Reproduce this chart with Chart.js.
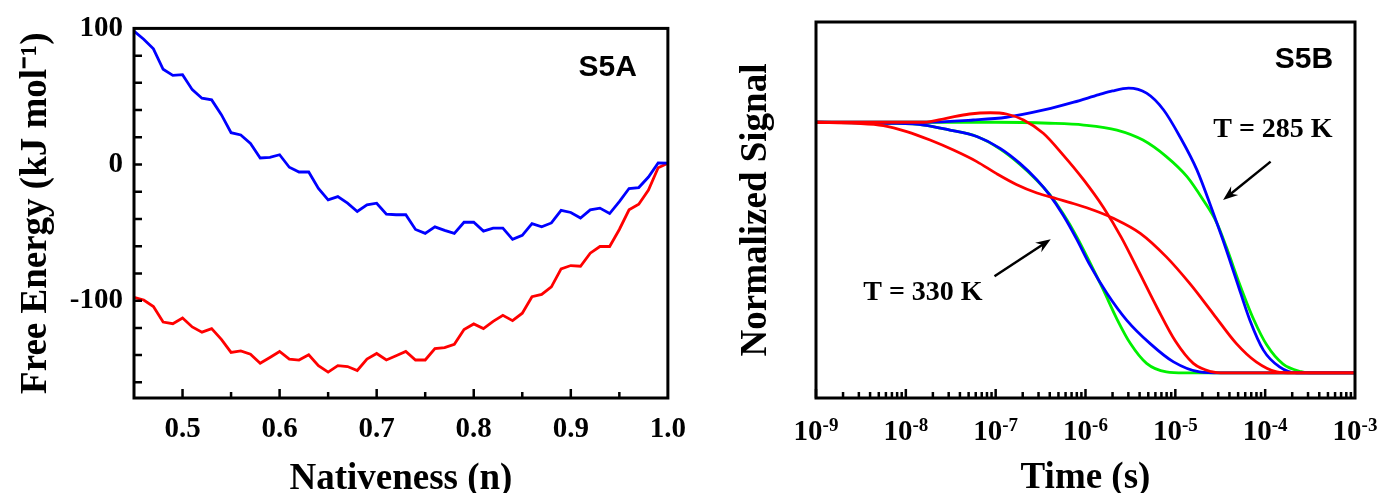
<!DOCTYPE html>
<html>
<head>
<meta charset="utf-8">
<script src="https://cdn.jsdelivr.net/npm/chart.js@4.4.1/dist/chart.umd.min.js"></script>
<style>
  body { margin: 0; background: #fff; }
  .panel { position: absolute; top: 0; height: 493px; }
  #panelA { left: 0; width: 700px; }
  #panelB { left: 700px; width: 679px; }
</style>
</head>
<body>
<div class="panel" id="panelA"><canvas id="energyChart"></canvas></div>
<div class="panel" id="panelB"><canvas id="signalChart"></canvas></div>
<script>
// ---- S5A: free energy vs nativeness ----
const nativeness = [0.45, 0.46, 0.47, 0.48, 0.49, 0.50, 0.51, 0.52, 0.53, 0.54,
  0.55, 0.56, 0.57, 0.58, 0.59, 0.60, 0.61, 0.62, 0.63, 0.64,
  0.65, 0.66, 0.67, 0.68, 0.69, 0.70, 0.71, 0.72, 0.73, 0.74,
  0.75, 0.76, 0.77, 0.78, 0.79, 0.80, 0.81, 0.82, 0.83, 0.84,
  0.85, 0.86, 0.87, 0.88, 0.89, 0.90, 0.91, 0.92, 0.93, 0.94,
  0.95, 0.96, 0.97, 0.98, 0.99, 1.00];
const energyBlue = [98, 92, 85, 70, 65.5, 66, 55, 48.7, 47.5, 36.6,
  23.4, 21.7, 15.5, 4.8, 5.3, 7.2, -2, -5.5, -5.5, -17.6,
  -26, -23.6, -28.4, -34.5, -29.6, -28.4, -36.4, -36.9, -36.9, -47.7,
  -50.6, -45.8, -48.4, -50.6, -42.4, -42.4, -48.9, -46.7, -46.7, -55,
  -52, -43.4, -45.8, -42.9, -33.7, -35.2, -39.3, -33.3, -32, -36,
  -27.2, -17.6, -16.9, -9.2, 1.2, 1];
const energyRed = [-97.6, -99.5, -104.3, -115.7, -116.9, -112.8, -119.3, -123.1, -120.5, -128.4,
  -138, -136.9, -139.3, -146, -141.7, -137.3, -142.9, -143.6, -139.8, -147.7,
  -152.5, -147.7, -148.4, -151.3, -142.9, -138.8, -143.6, -140.5, -137.3, -143.6,
  -143.6, -135.2, -134.5, -132, -121.2, -117.1, -120.5, -115.2, -110.8, -114.7,
  -109.2, -97.1, -95.4, -89.9, -76.6, -74.2, -74.7, -65.1, -60.2, -60.2,
  -47.7, -33.3, -29.2, -18.8, -2.4, 1];
const nativenessTicks = [0.5, 0.6, 0.7, 0.8, 0.9, 1.0];
const energyTicks = [-100, 0, 100];

// ---- S5B: normalized signal vs time, time as log10(t / s) ----
const blue285LogT = [-9, -7.8, -7.25, -6.88, -6.45, -6.13, -5.85, -5.7, -5.52, -5.32, -5.13, -4.95, -4.76, -4.58, -4.47, -4.32, -4.17, -4.02, -3.84, -3.65, -3];
const blue285 = [1, 1, 1.009, 1.02, 1.05, 1.08, 1.11, 1.125, 1.136, 1.116, 1.049, 0.943, 0.81, 0.64, 0.53, 0.37, 0.21, 0.091, 0.024, 0, 0];
const green285LogT = [-9, -7.0, -6.4, -6.02, -5.65, -5.36, -5.1, -4.87, -4.69, -4.54, -4.43, -4.28, -4.13, -3.98, -3.8, -3.6, -3.5, -3];
const green285 = [1, 1, 0.996, 0.989, 0.969, 0.929, 0.863, 0.783, 0.69, 0.6, 0.5, 0.35, 0.215, 0.11, 0.035, 0.005, 0, 0];
const blue330LogT = [-9, -8.18, -7.8, -7.51, -7.21, -6.95, -6.73, -6.54, -6.4, -6.25, -6.1, -5.95, -5.76, -5.54, -5.28, -5.02, -4.73, -4.5, -3];
const blue330 = [1, 0.996, 0.989, 0.969, 0.943, 0.896, 0.836, 0.77, 0.71, 0.63, 0.535, 0.43, 0.317, 0.21, 0.117, 0.044, 0.004, 0, 0];
const green330LogT = [-9, -8.18, -7.8, -7.51, -7.21, -6.95, -6.73, -6.54, -6.4, -6.25, -6.1, -5.95, -5.8, -5.65, -5.5, -5.32, -5.1, -4.9, -3];
const green330 = [1, 0.996, 0.989, 0.969, 0.943, 0.893, 0.832, 0.768, 0.712, 0.636, 0.545, 0.44, 0.33, 0.215, 0.117, 0.038, 0.004, 0, 0];
const redSteepLogT = [-9, -7.8, -7.55, -7.29, -7.06, -6.88, -6.69, -6.47, -6.25, -6.02, -5.8, -5.6, -5.4, -5.2, -5.0, -4.8, -4.6, -4.45, -3];
const redSteep = [1, 1, 1.016, 1.033, 1.038, 1.033, 1.009, 0.956, 0.87, 0.77, 0.66, 0.54, 0.4, 0.258, 0.127, 0.038, 0.005, 0, 0];
const redShallowLogT = [-9, -8.55, -8.25, -7.99, -7.73, -7.47, -7.21, -6.99, -6.77, -6.54, -6.32, -6.1, -5.9, -5.69, -5.39, -5.1, -4.84, -4.58, -4.32, -4.1, -3.87, -3.7, -3];
const redShallow = [1, 0.996, 0.987, 0.963, 0.929, 0.889, 0.843, 0.795, 0.752, 0.718, 0.695, 0.672, 0.648, 0.617, 0.557, 0.463, 0.357, 0.237, 0.117, 0.044, 0.004, 0, 0];
const timeTickExps = [-9, -8, -7, -6, -5, -4, -3];

const serif = "'Liberation Serif', 'Times New Roman', serif";
const sans = "'Liberation Sans', Arial, sans-serif";

function toPoints(xs, ys) {
  return xs.map((x, i) => ({ x: x, y: ys[i] }));
}
function toTimePoints(exps, ys) {
  return exps.map((e, i) => ({ x: Math.pow(10, e), y: ys[i] }));
}

function drawFrame(chart) {
  const { ctx, chartArea: a } = chart;
  ctx.save();
  ctx.strokeStyle = '#000';
  ctx.lineWidth = 3;
  ctx.strokeRect(a.left, a.top, a.right - a.left, a.bottom - a.top);
  ctx.restore();
}

function drawArrow(ctx, x1, y1, x2, y2) {
  const ang = Math.atan2(y2 - y1, x2 - x1);
  const head = 16, wing = 0.36;
  ctx.beginPath();
  ctx.moveTo(x1, y1);
  ctx.lineTo(x2 - 8 * Math.cos(ang), y2 - 8 * Math.sin(ang));
  ctx.stroke();
  ctx.beginPath();
  ctx.moveTo(x2, y2);
  ctx.lineTo(x2 - head * Math.cos(ang - wing), y2 - head * Math.sin(ang - wing));
  ctx.lineTo(x2 - 10 * Math.cos(ang), y2 - 10 * Math.sin(ang));
  ctx.lineTo(x2 - head * Math.cos(ang + wing), y2 - head * Math.sin(ang + wing));
  ctx.closePath();
  ctx.fill();
}

// inward ticks + box + panel label for S5A
const energyDecor = {
  id: 'energyDecor',
  afterDatasetsDraw(chart) {
    const { ctx, chartArea: a, scales } = chart;
    const xs = scales.x, ys = scales.y;
    drawFrame(chart);
    ctx.save();
    ctx.strokeStyle = '#000';
    ctx.lineWidth = 2.5;
    ctx.beginPath();
    for (let k = 10; k <= 19; k++) {
      const px = xs.getPixelForValue(k * 0.05);
      const len = k % 2 === 0 ? 9 : 6;
      ctx.moveTo(px, a.bottom);
      ctx.lineTo(px, a.bottom - len);
    }
    for (let v = -160; v <= 80; v += 20) {
      const py = ys.getPixelForValue(v);
      ctx.moveTo(a.left, py);
      ctx.lineTo(a.left + 8, py);
    }
    ctx.stroke();
    ctx.fillStyle = '#000';
    ctx.font = 'bold 30px ' + sans;
    ctx.textAlign = 'right';
    ctx.textBaseline = 'middle';
    ctx.fillText('S5A', xs.getPixelForValue(0.968), ys.getPixelForValue(71));
    ctx.restore();
  }
};

// inward log ticks, power-of-ten labels, annotations for S5B
const signalDecor = {
  id: 'signalDecor',
  afterDatasetsDraw(chart) {
    const { ctx, chartArea: a, scales } = chart;
    const xs = scales.x, ys = scales.y;
    drawFrame(chart);
    ctx.save();
    ctx.strokeStyle = '#000';
    ctx.fillStyle = '#000';
    ctx.lineWidth = 2.5;
    ctx.beginPath();
    for (let e = -9; e < -3; e++) {
      for (let m = 1; m <= 9; m++) {
        const px = xs.getPixelForValue(m * Math.pow(10, e));
        const len = m === 1 ? 9 : 6;
        ctx.moveTo(px, a.bottom);
        ctx.lineTo(px, a.bottom - len);
      }
    }
    ctx.stroke();

    // 10^n labels
    ctx.textBaseline = 'alphabetic';
    ctx.textAlign = 'left';
    timeTickExps.forEach(e => {
      const px = xs.getPixelForValue(Math.pow(10, e));
      ctx.font = 'bold 29px ' + serif;
      const w1 = ctx.measureText('10').width;
      ctx.font = 'bold 19px ' + serif;
      const w2 = ctx.measureText(String(e)).width;
      const x0 = px - (w1 + w2) / 2;
      ctx.font = 'bold 29px ' + serif;
      ctx.fillText('10', x0, a.bottom + 42);
      ctx.font = 'bold 19px ' + serif;
      ctx.fillText(String(e), x0 + w1, a.bottom + 33);
    });

    ctx.font = 'bold 30px ' + sans;
    ctx.textAlign = 'right';
    ctx.textBaseline = 'middle';
    ctx.fillText('S5B', xs.getPixelForValue(5.7e-4), ys.getPixelForValue(1.248));

    ctx.font = 'bold 28px ' + serif;
    ctx.textAlign = 'center';
    ctx.fillText('T = 285 K', xs.getPixelForValue(1.22e-4), ys.getPixelForValue(0.969));
    ctx.fillText('T = 330 K', xs.getPixelForValue(1.55e-8), ys.getPixelForValue(0.318));

    ctx.lineWidth = 2.5;
    drawArrow(ctx, xs.getPixelForValue(1.15e-4), ys.getPixelForValue(0.843),
      xs.getPixelForValue(3.4e-5), ys.getPixelForValue(0.69));
    drawArrow(ctx, xs.getPixelForValue(9.7e-8), ys.getPixelForValue(0.386),
      xs.getPixelForValue(4.1e-7), ys.getPixelForValue(0.533));
    ctx.restore();
  }
};

Chart.defaults.font.family = serif;
Chart.defaults.color = '#000';

const lineStyle = { borderWidth: 2.8, pointRadius: 0, fill: false };
const titleFont = { size: 37, weight: 'bold', lineHeight: 1 };

new Chart(document.getElementById('energyChart'), {
  type: 'line',
  data: {
    datasets: [
      Object.assign({ label: 'blue', data: toPoints(nativeness, energyBlue), borderColor: '#0000ff', tension: 0 }, lineStyle),
      Object.assign({ label: 'red', data: toPoints(nativeness, energyRed), borderColor: '#ff0000', tension: 0 }, lineStyle)
    ]
  },
  options: {
    responsive: true,
    maintainAspectRatio: false,
    animation: false,
    devicePixelRatio: 1,
    layout: { padding: { top: 22, right: 27, left: 0, bottom: 0 } },
    plugins: { legend: { display: false }, tooltip: { enabled: false } },
    scales: {
      x: {
        type: 'linear',
        min: 0.45,
        max: 1.0,
        afterBuildTicks: s => { s.ticks = nativenessTicks.map(v => ({ value: v })); },
        afterFit: s => { s.height = 95; },
        grid: { display: false, drawTicks: false },
        border: { display: false },
        ticks: {
          autoSkip: false, maxRotation: 0, padding: 14,
          font: { size: 29, weight: 'bold' },
          callback: v => Number(v).toFixed(1)
        },
        title: {
          display: true, text: 'Nativeness (n)',
          font: titleFont,
          padding: { top: 0, bottom: -5 }
        }
      },
      y: {
        type: 'linear',
        min: -171.5,
        max: 100,
        afterBuildTicks: s => { s.ticks = energyTicks.map(v => ({ value: v })); },
        afterFit: s => { s.width = 134; },
        grid: { display: false, drawTicks: false },
        border: { display: false },
        ticks: {
          autoSkip: false, padding: 11,
          font: { size: 29, weight: 'bold' },
          callback: v => String(v)
        },
        title: {
          display: true, text: 'Free Energy (kJ mol\u207B\u00B9)',
          font: titleFont,
          padding: { top: 18, bottom: 0 }
        }
      }
    }
  },
  plugins: [energyDecor]
});

new Chart(document.getElementById('signalChart'), {
  type: 'line',
  data: {
    datasets: [
      Object.assign({ label: 'red steep', data: toTimePoints(redSteepLogT, redSteep), borderColor: '#ff0000', cubicInterpolationMode: 'monotone' }, lineStyle),
      Object.assign({ label: 'red shallow', data: toTimePoints(redShallowLogT, redShallow), borderColor: '#ff0000', cubicInterpolationMode: 'monotone' }, lineStyle),
      Object.assign({ label: 'blue 285', data: toTimePoints(blue285LogT, blue285), borderColor: '#0000ff', cubicInterpolationMode: 'monotone' }, lineStyle),
      Object.assign({ label: 'blue 330', data: toTimePoints(blue330LogT, blue330), borderColor: '#0000ff', cubicInterpolationMode: 'monotone' }, lineStyle),
      Object.assign({ label: 'green 285', data: toTimePoints(green285LogT, green285), borderColor: '#00f000', cubicInterpolationMode: 'monotone' }, lineStyle),
      Object.assign({ label: 'green 330', data: toTimePoints(green330LogT, green330), borderColor: '#00f000', cubicInterpolationMode: 'monotone' }, lineStyle)
    ]
  },
  options: {
    responsive: true,
    maintainAspectRatio: false,
    animation: false,
    devicePixelRatio: 1,
    layout: { padding: { top: 22, right: 24, left: 0, bottom: 0 } },
    plugins: { legend: { display: false }, tooltip: { enabled: false } },
    scales: {
      x: {
        type: 'logarithmic',
        min: 1e-9,
        max: 1e-3,
        afterFit: s => { s.height = 95; },
        grid: { display: false, drawTicks: false },
        border: { display: false },
        ticks: { display: false },
        title: {
          display: true, text: 'Time (s)',
          font: titleFont,
          padding: { top: 0, bottom: -4 }
        }
      },
      y: {
        type: 'linear',
        min: -0.1,
        max: 1.4,
        afterFit: s => { s.width = 116; },
        grid: { display: false, drawTicks: false },
        border: { display: false },
        ticks: { display: false },
        title: {
          display: true, text: 'Normalized Signal',
          font: titleFont,
          padding: { top: 38, bottom: 0 }
        }
      }
    }
  },
  plugins: [signalDecor]
});
</script>
</body>
</html>
